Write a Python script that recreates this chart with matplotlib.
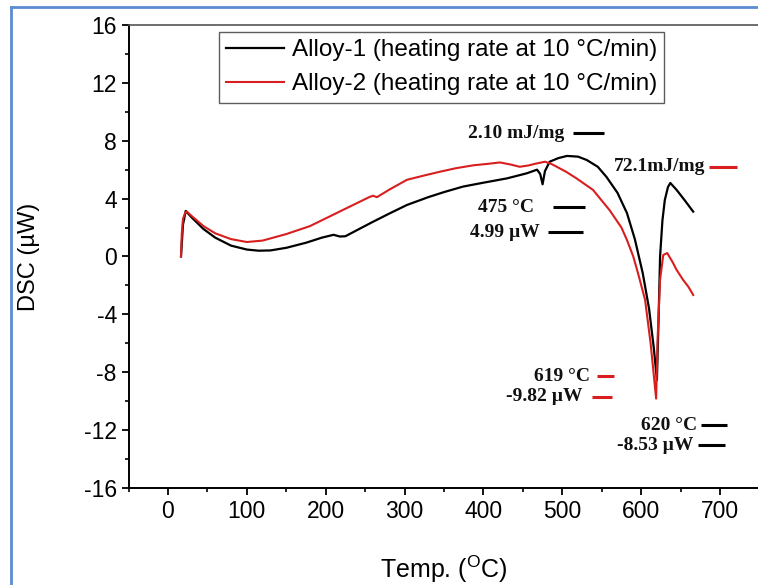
import matplotlib
matplotlib.use("Agg")
import matplotlib.pyplot as plt
from matplotlib.lines import Line2D
from matplotlib.ticker import MultipleLocator

plt.rcParams["font.family"] = ["Liberation Sans", "DejaVu Sans"]
plt.rcParams["mathtext.fontset"] = "custom"
plt.rcParams["mathtext.rm"] = "Liberation Sans"
plt.rcParams["axes.unicode_minus"] = False

# Alloy-1 trace
alloy1_temp = [16.5, 19, 22.5, 30, 45, 60, 80, 100, 115, 130, 150, 175, 195,
               210, 218, 225, 240, 260, 280, 303, 330, 350, 374, 400, 430, 455,
               468, 472, 475, 478, 484, 495, 506, 520, 531, 545, 556, 570, 582,
               592, 602, 610, 616, 620, 622, 624, 627, 630, 634, 637, 645, 655,
               666]
alloy1_dsc = [0, 2.2, 3.15, 2.7, 1.9, 1.3, 0.75, 0.48, 0.4, 0.42, 0.6, 0.95,
              1.3, 1.5, 1.38, 1.4, 1.83, 2.4, 2.95, 3.56, 4.1, 4.45, 4.83, 5.1,
              5.4, 5.75, 6.0, 5.7, 4.99, 5.9, 6.55, 6.8, 6.95, 6.9, 6.67, 6.2,
              5.5, 4.4, 3.0, 1.2, -1.15, -3.6, -6.3, -8.53, -4.5, 0, 2.5, 3.9,
              4.8, 5.08, 4.6, 3.9, 3.1]

# Alloy-2 trace
alloy2_temp = [16.5, 17.5, 19, 22, 24, 30, 45, 60, 80, 100, 120, 150, 180, 210,
               240, 255, 260, 265, 280, 303, 325, 345, 365, 387, 405, 421, 435,
               446, 458, 465, 478, 486, 493, 505, 518, 539, 560, 575, 582, 590,
               596, 605, 612, 619, 621, 624, 628, 633, 640, 645, 653, 660, 666]
alloy2_dsc = [0, 1.6, 2.6, 3.05, 3.1, 2.8, 2.1, 1.6, 1.2, 1.0, 1.1, 1.55, 2.1,
              2.9, 3.7, 4.1, 4.2, 4.1, 4.6, 5.3, 5.6, 5.86, 6.1, 6.3, 6.4, 6.5,
              6.35, 6.2, 6.3, 6.4, 6.55, 6.4, 6.2, 5.85, 5.4, 4.6, 3.2, 2.0,
              1.14, 0.0, -1.15, -3.0, -6.0, -9.82, -5.5, -1.6, 0.1, 0.24, -0.4,
              -0.93, -1.6, -2.1, -2.66]

series_labels = ["Alloy-1 (heating rate at 10 °C/min)",
                 "Alloy-2 (heating rate at 10 °C/min)"]

# annotation labels: text, text right end (x, y), dash start/end x, colour
note_texts = ["2.10 mJ/mg", "72.1mJ/mg", "475 °C", "4.99 µW",
              "619 °C", "-9.82 µW", "620 °C", "-8.53 µW"]
note_x = [503, 681, 464, 472, 535, 525, 671, 666]
note_y = [8.53, 6.19, 3.42, 1.69, -8.26, -9.71, -11.65, -13.03]
dash_x0 = [513, 686, 488, 482, 544, 538, 676, 672]
dash_x1 = [553, 721, 529, 526, 565, 563, 709, 706]
note_colors = ["black", "#d81e1e", "black", "black",
               "#d81e1e", "#d81e1e", "black", "black"]

RED = "#d81e1e"

fig = plt.figure(figsize=(7.58, 5.85), dpi=100)
ax = fig.add_axes([0.1696, 0.1658, 0.8323, 0.7915])

ax.plot(alloy1_temp, alloy1_dsc, color="black", lw=1.6, label=series_labels[0])
ax.plot(alloy2_temp, alloy2_dsc, color=RED, lw=1.5, label=series_labels[1])

for txt, x, y, x0, x1, c in zip(note_texts, note_x, note_y, dash_x0, dash_x1,
                                note_colors):
    ax.text(x, y, txt, ha="right", va="center", fontsize=14,
            fontweight="bold", family=["Liberation Serif", "DejaVu Serif"],
            color="#111111")
    ax.plot([x0, x1], [y, y], color=c, lw=2.2, solid_capstyle="butt")

ax.set_xlim(-50, 750)
ax.set_ylim(-16, 16)
ax.xaxis.set_major_locator(MultipleLocator(100))
ax.xaxis.set_minor_locator(MultipleLocator(50))
ax.yaxis.set_major_locator(MultipleLocator(4))
ax.yaxis.set_minor_locator(MultipleLocator(2))
ax.tick_params(which="major", direction="out", length=5, width=1.3,
               labelsize=16.5, top=False, right=False)
ax.tick_params(which="minor", direction="out", length=3, width=1.2,
               top=False, right=False)
ax.set_xticks(range(0, 701, 100))
for s in ["left", "bottom"]:
    ax.spines[s].set_linewidth(1.4)
ax.spines["top"].set_linewidth(1.2)
ax.spines["top"].set_color("#555555")
ax.spines["right"].set_visible(False)

ax.set_xlabel("Temp. ($^{\\mathrm{O}}$C)", fontsize=18, labelpad=22)
ax.set_ylabel("DSC (µW)", fontsize=17)
ax.yaxis.set_label_coords(-0.14, 0.5)

leg = ax.legend(loc="upper left", bbox_to_anchor=(0.143, 0.985), fontsize=17.5,
                frameon=True, fancybox=False, edgecolor="#333333",
                handlelength=2.4, handletextpad=0.3, borderpad=0.3,
                labelspacing=0.5, borderaxespad=0)
leg.get_frame().set_linewidth(1.0)

# blue frame around the figure (left and top edges visible)
blue = "#5b8dd2"
fig.add_artist(Line2D([11 / 758, 11 / 758], [0, 1 - 7 / 585], color=blue,
                      lw=2, transform=fig.transFigure))
fig.add_artist(Line2D([11 / 758, 1], [1 - 7 / 585, 1 - 7 / 585], color=blue,
                      lw=2, transform=fig.transFigure))

fig.savefig("out.png", dpi=100)
